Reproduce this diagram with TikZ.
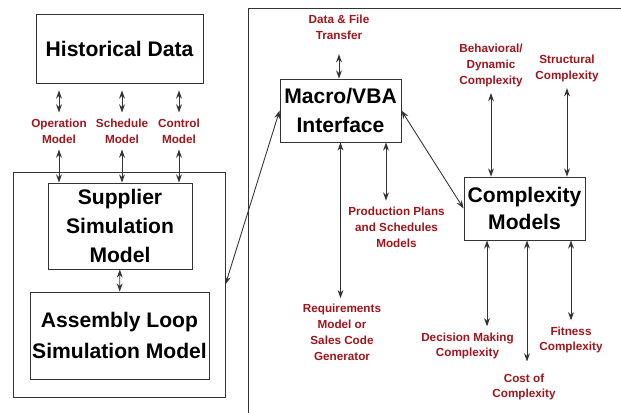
\documentclass[tikz,border=0pt]{standalone}
\usepackage{fontspec}
\setmainfont{Liberation Sans}
\usetikzlibrary{arrows.meta,calc,positioning}
\definecolor{dark1}{HTML}{A0141C}
\definecolor{line1}{HTML}{333333}

\begin{document}
\begin{tikzpicture}[x=0.03cm,y=-0.03cm,line width=0.75pt,draw=line1]
\tikzstyle{box}=[draw=line1,line width=0.7pt,fill=white,align=center,inner sep=0pt,font=\fontsize{18}{26}\selectfont\bfseries]
\tikzstyle{frame}=[draw=line1,line width=0.7pt]
\tikzstyle{annot}=[text=dark1,align=center,inner sep=5pt,font=\fontsize{10}{13.5}\selectfont\bfseries]
\tikzstyle{link}=[{Stealth[length=7pt,width=5pt]}-{Stealth[length=7pt,width=5pt]},draw=line1]

\useasboundingbox (0,0) rectangle (621,412);

% Right hand frame, open to the right and bottom
\draw[frame] (248,416) |- (626,8);

% Left hand side: data and simulation models
\node[box,minimum width=5.01cm,minimum height=2.07cm] (hist) at (119.5,48.5) {Historical Data};
\node[frame,minimum width=6.36cm,minimum height=6.75cm] (sim) at (119,284.5) {};
\node[box,minimum width=4.32cm,minimum height=2.58cm,font=\fontsize{18}{24.5}\selectfont\bfseries] (supp) at (120,226) {Supplier\\Simulation\\Model};
\node[box,minimum width=5.37cm,minimum height=2.61cm] (asm) at (119.5,335.5) {Assembly Loop\\Simulation Model};

\foreach \name/\x/\txt in {op/59/Operation,sched/122/Schedule,ctrl/179/Control}
\node[annot] (\name) at (\x,131) {\txt\\Model};

\foreach \name in {op,sched,ctrl} {
\draw[link,shorten <=6pt] (hist.south -| \name.north) -- (\name.north);
\draw[link] (\name.south) -- (\name.south |- supp.north);
}
\draw[link] (supp) -- (asm);

% Right hand side: interface and complexity models
\node[box,minimum width=3.63cm,minimum height=1.89cm,font=\fontsize{18}{24}\selectfont\bfseries] (vba) at (340.5,110.5) {Macro/VBA\\Interface};
\node[box,minimum width=3.63cm,minimum height=1.89cm,font=\fontsize{18}{23}\selectfont\bfseries] (cplx) at (524.5,208.5) {Complexity\\Models};

\node[annot] (dft) at (339,27.5) {Data \& File\\Transfer};
\node[annot] (prod) at (396.5,227) {Production Plans\\and Schedules\\Models};
\node[annot] (req) at (342,332.5) {Requirements\\Model or\\Sales Code\\Generator};
\node[annot] (beh) at (491,65.5) {Behavioral/\\Dynamic\\Complexity};
\node[annot] (struc) at (567,68.5) {Structural\\Complexity};
\node[annot] (dm) at (467.5,346) {Decision Making\\Complexity};
\node[annot] (cost) at (524,387) {Cost of\\Complexity};
\node[annot] (fit) at (571,340) {Fitness\\Complexity};

\path ([xshift=1.365cm]vba.south) coordinate (v1);
\path ([xshift=-1.125cm]cplx.south) coordinate (c1);
\path ([xshift=0.075cm]cplx.south) coordinate (c2);
\path ([xshift=1.395cm]cplx.south) coordinate (c3);

\draw[link,shorten <=7pt] (dft.south) -- (dft.south |- vba.north);
\draw[link] (vba.south) -- (vba.south |- req.north);
\draw[link] (v1) -- (v1 |- prod.north);
\draw[link] (beh.south) -- (beh.south |- cplx.north);
\draw[link] (struc.south) -- (struc.south |- cplx.north);
\draw[link] (c1) -- (c1 |- dm.north);
\draw[link,shorten >=5pt] (c2) -- (c2 |- cost.north);
\draw[link] (c3) -- (c3 |- fit.north);

% Links between the two sides
\draw[link] (sim.east) -- (vba.west);
\draw[link] (vba.east) -- (cplx.west);
\end{tikzpicture}
\end{document}
